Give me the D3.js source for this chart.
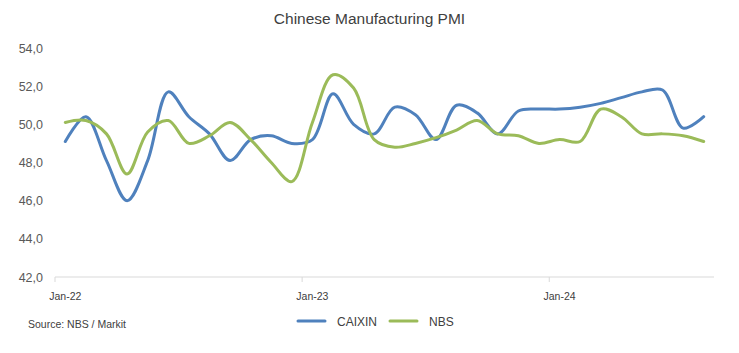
<!DOCTYPE html>
<html>
<head>
<meta charset="utf-8">
<script src="https://cdn.jsdelivr.net/npm/d3@7"></script>
<style>
  body { margin: 0; background: #fff; }
  svg { font-family: "Liberation Sans", Arial, sans-serif; }
</style>
</head>
<body>
<svg id="chart" width="739" height="353"></svg>
<script>
// monthly readings, Jan-22 .. Aug-24
const months = d3.timeMonths(new Date(2022, 0, 1), new Date(2024, 8, 1));
const caixin = [
  49.1, 50.4, 48.1, 46.0, 48.1, 51.7, 50.4, 49.5, 48.1, 49.2, 49.4, 49.0,
  49.2, 51.6, 50.0, 49.5, 50.9, 50.5, 49.2, 51.0, 50.6, 49.5, 50.7, 50.8,
  50.8, 50.9, 51.1, 51.4, 51.7, 51.8, 49.8, 50.4
];
const nbs = [
  50.1, 50.2, 49.5, 47.4, 49.6, 50.2, 49.0, 49.4, 50.1, 49.2, 48.0, 47.0,
  50.1, 52.6, 51.9, 49.2, 48.8, 49.0, 49.3, 49.7, 50.2, 49.5, 49.4, 49.0,
  49.2, 49.1, 50.8, 50.4, 49.5, 49.5, 49.4, 49.1
];
const yTicks = [42, 44, 46, 48, 50, 52, 54];

const series = [
  { name: "CAIXIN", values: caixin, color: "#4f81bd" },
  { name: "NBS", values: nbs, color: "#9bbb59" }
];

const svg = d3.select("#chart");
const width = 739, height = 353;
const margin = { top: 48, right: 25, bottom: 76, left: 55 };

const x = d3.scaleBand()
    .domain(months)
    .range([margin.left, width - margin.right])
    .padding(0);

const y = d3.scaleLinear()
    .domain([42, 54])
    .range([height - margin.bottom, margin.top]);

const fmt = d => d.toFixed(1).replace(".", ",");

// title
svg.append("text")
    .attr("x", width / 2)
    .attr("y", 24)
    .attr("text-anchor", "middle")
    .attr("fill", "#404040")
    .style("font-size", "15.5px")
    .text("Chinese Manufacturing PMI");

// y axis labels only
svg.append("g")
    .attr("transform", `translate(${margin.left - 9},0)`)
    .call(d3.axisLeft(y).tickValues(yTicks).tickFormat(fmt).tickSize(0))
    .call(g => g.select(".domain").remove())
    .selectAll("text")
    .attr("fill", "#595959")
    .style("font-size", "12.5px");

// x axis: line + ticks at January boundaries
const jans = months.filter(d => d.getMonth() === 0);
const xAxis = svg.append("g")
    .attr("transform", `translate(0,${y(42)})`);
xAxis.append("line")
    .attr("x1", x.range()[0]).attr("x2", x.range()[1])
    .attr("stroke", "#d9d9d9");
xAxis.selectAll(".tk")
    .data(jans)
    .join("line")
    .attr("x1", d => x(d)).attr("x2", d => x(d))
    .attr("y1", 0).attr("y2", 5)
    .attr("stroke", "#d9d9d9");
xAxis.selectAll(".lbl")
    .data(jans)
    .join("text")
    .attr("x", d => x(d) + x.bandwidth() / 2)
    .attr("y", 23)
    .attr("text-anchor", "middle")
    .attr("fill", "#404040")
    .style("font-size", "10.5px")
    .text(d3.timeFormat("%b-%y"));

// lines
const line = d3.line()
    .x((d, i) => x(months[i]) + x.bandwidth() / 2)
    .y(d => y(d))
    .curve(d3.curveCatmullRom.alpha(0.5));

svg.append("g")
    .selectAll("path")
    .data(series)
    .join("path")
    .attr("d", d => line(d.values))
    .attr("fill", "none")
    .attr("stroke", d => d.color)
    .attr("stroke-width", 3)
    .attr("stroke-linecap", "round");

// legend
const legend = svg.append("g").attr("transform", "translate(298,321)");
const items = legend.selectAll("g")
    .data(series)
    .join("g")
    .attr("transform", (d, i) => `translate(${i * 92},0)`);
items.append("line")
    .attr("x1", 0).attr("x2", 27)
    .attr("stroke", d => d.color)
    .attr("stroke-width", 3)
    .attr("stroke-linecap", "round");
items.append("text")
    .attr("x", 39)
    .attr("y", 4.5)
    .attr("fill", "#404040")
    .style("font-size", "12px")
    .text(d => d.name);

// source note
svg.append("text")
    .attr("x", 28)
    .attr("y", 328)
    .attr("fill", "#404040")
    .style("font-size", "10.5px")
    .text("Source: NBS / Markit");
</script>
</body>
</html>
